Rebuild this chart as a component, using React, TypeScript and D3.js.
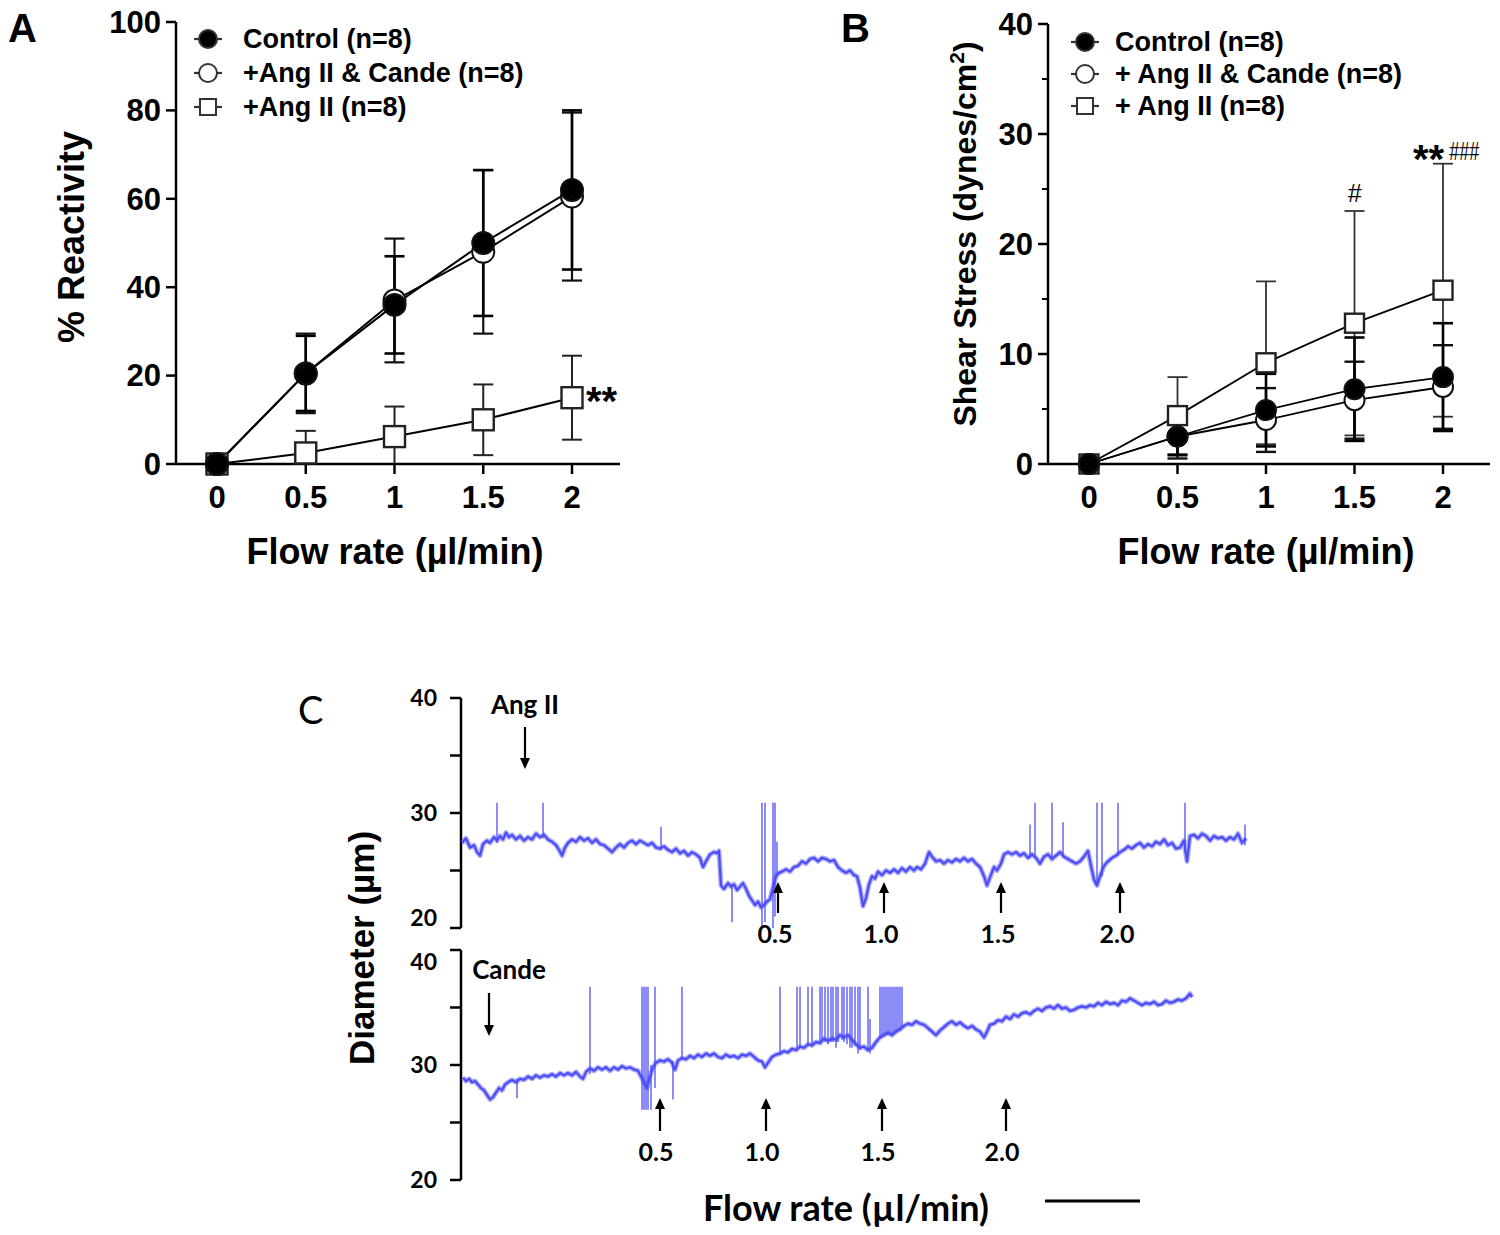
import React from "react";
import * as d3 from "d3";

// ---------- Panel A / B data ----------
const flowRates = [0, 0.5, 1, 1.5, 2];
const flowTickLabels = ["0", "0.5", "1", "1.5", "2"];

const reactControl = [0, 20.5, 36, 50, 62];
const reactControlErr = [0, 8.5, 11, 16.5, 18];
const reactCande = [0, 20.5, 37, 48, 60.5];
const reactCandeErr = [0, 9, 14, 18.5, 19];
const reactAngII = [0, 2.5, 6.2, 10, 15];
const reactAngIIErr = [0, 5, 6.8, 8, 9.5];
const reactTicks = [0, 20, 40, 60, 80, 100];

const shearControl = [0, 2.5, 4.9, 6.8, 7.9];
const shearControlErr = [0, 1.7, 3.3, 4.7, 4.9];
const shearCande = [0, 2.5, 4.0, 5.8, 7.0];
const shearCandeErr = [0, 2.0, 2.9, 3.5, 3.8];
const shearAngII = [0, 4.4, 9.2, 12.8, 15.8];
const shearAngIIErr = [0, 3.5, 7.4, 10.2, 11.5];
const shearTicks = [0, 10, 20, 30, 40];
const shearMinorTicks = [5, 15, 25, 35];

const legendA = ["Control (n=8)", "+Ang II & Cande (n=8)", "+Ang II (n=8)"];
const legendB = ["Control (n=8)", "+ Ang II & Cande (n=8)", "+ Ang II (n=8)"];

// ---------- Panel C data (time in s, diameter in µm) ----------
const traceAngII: [number, number][] = [
  [1,27.4],[5,27.8],[9,27.0],[13,27.2],[16,26.6],[19,26.3],[22,27.3],[26,27.6],[29,27.4],[33,27.9],[36,27.6],[39,28.0],[42,27.7],[45,28.3],[48,27.9],[51,28.1],[55,27.7],[59,28.0],[63,27.6],[67,27.9],[71,27.7],[75,28.2],[79,27.9],[83,28.1],[87,27.7],[91,27.5],[95,27.2],[98,26.8],[101,26.3],[104,27.0],[107,27.4],[111,27.7],[115,27.5],[119,27.9],[123,27.6],[127,27.8],[131,27.4],[135,27.7],[139,27.3],[143,27.2],[147,26.9],[151,26.6],[155,27.0],[159,27.3],[163,27.0],[167,27.4],[171,27.6],[175,27.3],[179,27.6],[183,27.4],[187,27.2],[191,27.4],[195,27.0],[199,26.9],[203,27.1],[207,26.8],[211,26.6],[215,26.9],[219,26.5],[223,26.7],[227,26.3],[231,26.6],[235,26.4],[239,26.1],[242,25.3],[245,25.8],[249,26.4],[253,26.6],[256,26.5],[258,26.7],[260,23.7],[263,23.4],[267,23.9],[270,23.6],[273,23.8],[276,23.3],[279,23.6],[282,23.9],[285,23.4],[288,22.8],[291,22.4],[294,22.0],[297,22.3],[300,21.8],[303,22.0],[306,22.3],[309,22.5],[312,23.5],[315,24.5],[318,24.8],[321,24.9],[325,25.1],[329,24.9],[333,25.3],[337,25.4],[341,25.8],[345,25.6],[349,26.0],[353,26.1],[357,25.8],[361,26.1],[365,26.0],[369,25.8],[373,25.9],[377,25.3],[381,25.0],[385,24.8],[389,25.0],[393,24.6],[396,24.5],[399,23.5],[402,21.9],[405,22.6],[408,23.8],[411,24.5],[414,24.3],[417,24.9],[421,24.6],[425,25.0],[429,24.8],[433,25.1],[437,24.8],[441,25.2],[445,24.9],[449,25.3],[453,25.0],[456,25.3],[460,25.1],[464,25.6],[468,26.6],[471,26.2],[475,25.8],[479,25.9],[483,25.6],[487,25.9],[491,25.7],[495,26.0],[499,25.8],[503,26.1],[507,25.8],[511,26.0],[515,25.6],[519,25.3],[523,24.5],[526,23.7],[529,24.4],[533,25.3],[536,25.0],[540,25.6],[543,26.4],[547,26.6],[551,26.4],[555,26.6],[559,26.3],[563,26.5],[567,26.1],[571,26.4],[575,26.1],[579,25.6],[583,26.2],[587,26.4],[591,26.0],[595,26.3],[599,26.6],[603,26.2],[607,26.0],[611,25.8],[615,25.6],[619,25.8],[623,26.2],[627,26.7],[630,25.4],[633,24.2],[636,23.7],[639,24.5],[643,25.4],[647,25.8],[651,26.1],[655,26.3],[659,26.6],[663,26.8],[667,27.1],[671,26.9],[675,27.2],[679,27.4],[683,27.0],[687,27.3],[691,27.1],[695,27.5],[699,27.3],[703,27.7],[707,27.2],[711,27.4],[715,26.9],[719,27.0],[723,27.6],[726,25.8],[729,28.0],[733,28.1],[737,27.8],[741,28.2],[745,28.0],[749,27.6],[753,28.0],[757,27.8],[761,27.9],[765,27.6],[769,27.9],[773,27.7],[777,28.2],[781,27.4],[785,27.8]
];
const spikesAngII: [number, number, number][] = [
  [36,27.4,30.9],[82,27.8,30.9],[200,26.8,28.8],[271,20.5,23.8],[301,20.0,30.9],[304,20.5,30.9],[312,20.0,30.9],[314,21.0,30.9],[316,24.5,27.5],[569,26.1,29.0],[574,26.3,30.9],[591,26.0,30.9],[602,26.4,29.2],[636,23.8,30.9],[641,24.5,30.9],[657,26.3,30.9],[724,26.5,30.9],[784,27.2,29.0]
];
const traceCande: [number, number][] = [
  [2,28.9],[5,28.6],[8,28.8],[11,28.5],[14,28.6],[17,28.3],[20,28.0],[23,27.8],[26,27.4],[29,27.0],[32,27.2],[35,27.6],[38,28.0],[41,27.8],[44,28.3],[47,28.5],[51,28.7],[55,28.5],[59,28.8],[63,28.7],[67,29.0],[71,28.8],[75,29.1],[79,28.9],[83,29.1],[87,29.0],[91,29.2],[95,29.0],[99,29.3],[103,29.1],[107,29.3],[111,29.1],[115,29.4],[119,29.0],[122,28.8],[125,29.4],[129,29.7],[133,29.5],[137,29.8],[141,29.6],[145,29.8],[149,29.5],[153,29.8],[157,29.6],[161,29.9],[165,29.7],[169,29.8],[173,29.6],[177,29.5],[180,29.0],[183,28.5],[186,28.0],[189,29.0],[192,29.8],[195,30.2],[199,30.4],[203,30.3],[207,30.5],[211,30.2],[214,29.6],[217,30.4],[221,30.6],[225,30.5],[229,30.8],[233,30.6],[237,30.9],[241,30.7],[245,31.0],[249,30.8],[253,31.0],[257,30.7],[261,30.6],[265,30.9],[269,30.7],[273,30.8],[277,30.6],[281,30.9],[285,30.8],[289,31.0],[293,30.7],[297,30.4],[301,30.3],[304,29.8],[307,30.2],[311,30.7],[315,30.9],[319,31.0],[323,31.2],[327,31.1],[331,31.4],[335,31.3],[339,31.6],[343,31.5],[347,31.8],[351,31.7],[355,32.0],[359,31.9],[363,32.3],[367,32.1],[371,32.3],[375,32.2],[379,32.6],[383,32.4],[387,32.6],[391,32.2],[395,31.8],[399,31.5],[403,31.6],[407,31.3],[411,31.5],[415,32.0],[419,32.4],[423,32.6],[427,32.8],[431,32.6],[435,32.9],[439,33.1],[443,33.4],[447,33.6],[451,33.5],[455,33.8],[459,33.6],[463,33.5],[467,33.2],[471,32.9],[475,32.6],[479,33.0],[483,33.3],[487,33.6],[491,33.8],[495,33.5],[499,33.7],[503,33.4],[507,33.2],[511,33.4],[515,33.1],[519,32.9],[523,32.4],[526,32.9],[529,33.5],[533,33.6],[537,33.9],[541,33.8],[545,34.2],[549,34.0],[553,34.4],[557,34.2],[561,34.5],[565,34.6],[569,34.4],[573,34.7],[577,34.9],[581,34.7],[585,35.0],[589,35.1],[593,34.9],[597,35.2],[601,34.9],[605,35.0],[609,34.7],[613,34.8],[617,35.0],[621,35.1],[625,35.0],[629,35.2],[633,35.1],[637,35.4],[641,35.2],[645,35.5],[649,35.3],[653,35.4],[657,35.2],[661,35.6],[665,35.5],[669,35.8],[673,35.6],[677,35.4],[681,35.2],[685,35.4],[689,35.3],[693,35.5],[697,35.2],[701,35.3],[705,35.6],[709,35.4],[713,35.5],[717,35.7],[721,35.6],[725,35.8],[729,36.2],[731,35.9]
];
const spikesCande: [number, number, number][] = [
  [56,27.1,28.8],[129,29.2,36.8],[181,26.1,36.8],[183,26.1,36.8],[185,26.1,36.8],[187,26.1,36.8],[190,26.1,30.0],[194,28.0,36.8],[212,27.0,30.3],[221,30.5,36.8],[319,30.9,36.8],[336,31.5,36.8],[339,31.5,36.8],[347,31.8,36.8],[351,31.7,36.8],[359,32.0,36.8],[361,32.0,36.8],[364,32.0,36.8],[367,31.8,36.8],[370,32.0,36.8],[372,32.0,36.8],[375,31.5,36.8],[377,32.0,36.8],[381,32.2,36.8],[383,32.0,36.8],[386,31.8,36.8],[389,31.5,36.8],[391,31.5,36.8],[394,31.7,36.8],[397,31.0,36.8],[399,31.3,36.8],[407,31.2,36.8],[409,31.0,34.0],[419,32.3,36.8],[421,32.4,36.8],[423,32.5,36.8],[425,32.6,36.8],[427,32.6,36.8],[429,32.7,36.8],[431,32.6,36.8],[433,32.8,36.8],[435,32.8,36.8],[437,33.0,36.8],[439,33.0,36.8],[441,33.2,36.8]
];
const diamTicks = [20, 25, 30, 35, 40];
const diamTickLabels = [20, 30, 40];
const flowMarkTimesAngII = [317, 423, 540, 659];
const flowMarkTimesCande = [199, 305, 421, 545];
const flowMarkLabels = ["0.5", "1.0", "1.5", "2.0"];
const angIIAddTime = 64;
const candeAddTime = 28;

const FONT = "'Liberation Sans', Arial, sans-serif";
const FONT_C = "Lato, 'Open Sans', sans-serif";
const TRACE = "#4b4bf7";

type Series = { vals: number[]; err: number[]; kind: "filled" | "open" | "square"; errColor: string; errW: number };

function XYPanel(props: {
  x: d3.ScaleLinear<number, number>;
  y: d3.ScaleLinear<number, number>;
  yTicks: number[];
  yMinor?: number[];
  xEnd: number;
  series: Series[];
  r: number;
  sq: number;
  lineW: number;
}) {
  const { x, y, yTicks, yMinor = [], xEnd, series, r, sq, lineW } = props;
  const x0 = x.range()[0] - 41;
  const [yBottom] = y.range();
  const yTop = y(y.domain()[1]);
  const line = d3.line<number>().x((_, i) => x(flowRates[i])).y((v) => y(v));
  const cap = 10;
  const marker = (s: Series, i: number, key: string) => {
    const cx = x(flowRates[i]);
    const cy = y(s.vals[i]);
    if (s.kind === "square")
      return <rect key={key} x={cx - sq / 2} y={cy - sq / 2} width={sq} height={sq} fill="#fff" stroke="#222" strokeWidth={2.4} />;
    return <circle key={key} cx={cx} cy={cy} r={r} fill={s.kind === "filled" ? "#000" : "#fff"} stroke="#111" strokeWidth={2} />;
  };
  return (
    <g>
      <line x1={x0} x2={x0} y1={yTop} y2={yBottom} stroke="#000" strokeWidth={2.5} />
      <line x1={x0} x2={xEnd} y1={yBottom} y2={yBottom} stroke="#000" strokeWidth={2.5} />
      {yTicks.map((t) => (
        <g key={"yt" + t}>
          <line x1={x0 - 10} x2={x0} y1={y(t)} y2={y(t)} stroke="#000" strokeWidth={2.5} />
          <text x={x0 - 15} y={y(t)} dy="0.35em" textAnchor="end" fontFamily={FONT} fontWeight="bold" fontSize={31}>{t}</text>
        </g>
      ))}
      {yMinor.map((t) => (
        <line key={"ym" + t} x1={x0 - 6} x2={x0} y1={y(t)} y2={y(t)} stroke="#000" strokeWidth={2} />
      ))}
      {flowRates.map((f, i) => (
        <g key={"xt" + f}>
          <line x1={x(f)} x2={x(f)} y1={yBottom} y2={yBottom + 10} stroke="#000" strokeWidth={2.5} />
          <text x={x(f)} y={yBottom + 33} dy="0.35em" textAnchor="middle" fontFamily={FONT} fontWeight="bold" fontSize={31}>{flowTickLabels[i]}</text>
        </g>
      ))}
      {series.map((s, si) =>
        s.vals.map((v, i) => {
          if (!s.err[i]) return null;
          const cx = x(flowRates[i]);
          const hi = y(v + s.err[i]);
          const loVal = v - s.err[i];
          const lo = y(Math.max(0, loVal));
          return (
            <g key={`e${si}-${i}`} stroke={s.errColor} strokeWidth={s.errW}>
              <line x1={cx} x2={cx} y1={hi} y2={lo} />
              <line x1={cx - cap} x2={cx + cap} y1={hi} y2={hi} />
              {loVal > 0 && <line x1={cx - cap} x2={cx + cap} y1={lo} y2={lo} />}
            </g>
          );
        })
      )}
      {series.map((s, si) => (
        <path key={"l" + si} d={line(s.vals) || ""} fill="none" stroke="#000" strokeWidth={lineW} />
      ))}
      {series.map((s, si) => s.vals.map((_, i) => marker(s, i, `m${si}-${i}`)))}
    </g>
  );
}

function Legend(props: { x: number; y: number; dy: number; labels: string[]; r: number; sq: number; tx: number }) {
  const { x, y, dy, labels, r, sq, tx } = props;
  const kinds = ["filled", "open", "square"];
  return (
    <g>
      {labels.map((lab, i) => {
        const cy = y + i * dy;
        return (
          <g key={lab}>
            <line x1={x - 14} x2={x + 14} y1={cy} y2={cy} stroke="#333" strokeWidth={2.2} />
            {kinds[i] === "square" ? (
              <rect x={x - sq / 2} y={cy - sq / 2} width={sq} height={sq} fill="#fff" stroke="#333" strokeWidth={2} />
            ) : (
              <circle cx={x} cy={cy} r={r} fill={kinds[i] === "filled" ? "#000" : "#fff"} stroke="#333" strokeWidth={2} />
            )}
            <text x={x + tx} y={cy} dy="0.35em" fontFamily={FONT} fontWeight="bold" fontSize={27}>{lab}</text>
          </g>
        );
      })}
    </g>
  );
}

function Arrow(props: { x: number; y1: number; y2: number }) {
  const { x, y1, y2 } = props;
  const dir = y2 > y1 ? 1 : -1;
  const h = 11;
  return (
    <g>
      <line x1={x} x2={x} y1={y1} y2={y2 - dir * h} stroke="#000" strokeWidth={2.2} />
      <path d={`M${x},${y2} L${x - 5},${y2 - dir * h} L${x + 5},${y2 - dir * h} Z`} fill="#000" />
    </g>
  );
}

export default function App() {
  const xA = d3.scaleLinear().domain([0, 2]).range([217, 572]);
  const yA = d3.scaleLinear().domain([0, 100]).range([464, 22]);
  const xB = d3.scaleLinear().domain([0, 2]).range([1089, 1443]);
  const yB = d3.scaleLinear().domain([0, 40]).range([464, 24]);

  const xC = d3.scaleLinear().domain([0, 800]).range([461, 1261]);
  const yCtop = d3.scaleLinear().domain([20, 40]).range([928, 698]);
  const yCbot = d3.scaleLinear().domain([20, 40]).range([1180, 950]);

  const traceLineTop = d3.line<[number, number]>().x((d) => xC(d[0])).y((d) => yCtop(d[1]));
  const traceLineBot = d3.line<[number, number]>().x((d) => xC(d[0])).y((d) => yCbot(d[1]));

  const seriesA: Series[] = [
    { vals: reactAngII, err: reactAngIIErr, kind: "square", errColor: "#222", errW: 2 },
    { vals: reactCande, err: reactCandeErr, kind: "open", errColor: "#111", errW: 2.2 },
    { vals: reactControl, err: reactControlErr, kind: "filled", errColor: "#000", errW: 2.6 },
  ];
  const seriesB: Series[] = [
    { vals: shearAngII, err: shearAngIIErr, kind: "square", errColor: "#333", errW: 1.8 },
    { vals: shearCande, err: shearCandeErr, kind: "open", errColor: "#111", errW: 2.4 },
    { vals: shearControl, err: shearControlErr, kind: "filled", errColor: "#000", errW: 2.6 },
  ];

  const axC = 461;
  const topB = yB(shearAngII[4] + shearAngIIErr[4]);

  return (
    <svg width={1500} height={1235} style={{ position: "absolute", left: 0, top: 0, background: "#fff" }}>
      <rect x={0} y={0} width={1500} height={1235} fill="#fff" />
      {/* Panel A */}
      <text x={8} y={42} fontFamily={FONT} fontWeight="bold" fontSize={40}>A</text>
      <XYPanel x={xA} y={yA} yTicks={reactTicks} xEnd={620} series={seriesA} r={11} sq={21} lineW={2} />
      <Legend x={208} y={39} dy={34} labels={legendA} r={9} sq={16} tx={35} />
      <text x={586} y={yA(reactAngII[4]) + 17} fontFamily={FONT} fontWeight="bold" fontSize={40}>**</text>
      <text transform={`translate(84,237) rotate(-90)`} textAnchor="middle" fontFamily={FONT} fontWeight="bold" fontSize={36}>% Reactivity</text>
      <text x={395} y={551} dy="0.35em" textAnchor="middle" fontFamily={FONT} fontWeight="bold" fontSize={36}>Flow rate (µl/min)</text>

      {/* Panel B */}
      <text x={841} y={42} fontFamily={FONT} fontWeight="bold" fontSize={40}>B</text>
      <XYPanel x={xB} y={yB} yTicks={shearTicks} yMinor={shearMinorTicks} xEnd={1490} series={seriesB} r={10} sq={19} lineW={1.8} />
      <Legend x={1085} y={42} dy={32} labels={legendB} r={9} sq={16} tx={30} />
      <text x={xB(1.5)} y={yB(shearAngII[3] + shearAngIIErr[3]) - 9} textAnchor="middle" fontFamily={FONT} fontStyle="italic" fontSize={25}>#</text>
      <text x={xB(2) - 30} y={topB + 9} fontFamily={FONT} fontWeight="bold" fontSize={40}>**</text>
      <text x={xB(2) + 6} y={topB - 4} fontFamily={FONT} fontStyle="italic" fontSize={25} textLength={30} lengthAdjust="spacingAndGlyphs">###</text>
      <text transform={`translate(976,234) rotate(-90)`} textAnchor="middle" fontFamily={FONT} fontWeight="bold" fontSize={32}>
        Shear Stress (dynes/cm<tspan dy={-12} fontSize={21}>2</tspan><tspan dy={12}>)</tspan>
      </text>
      <text x={1266} y={551} dy="0.35em" textAnchor="middle" fontFamily={FONT} fontWeight="bold" fontSize={36}>Flow rate (µl/min)</text>

      {/* Panel C */}
      <text x={298} y={724} fontFamily={FONT_C} fontSize={38}>C</text>
      {[yCtop, yCbot].map((ys, k) => (
        <g key={"cax" + k}>
          <line x1={axC} x2={axC} y1={ys(40)} y2={ys(20)} stroke="#000" strokeWidth={2.5} />
          {diamTicks.map((t) => (
            <line key={t} x1={axC - 11} x2={axC} y1={ys(t)} y2={ys(t)} stroke="#000" strokeWidth={2.5} />
          ))}
          {diamTickLabels.map((t) => {
            const shift = k === 0 && t === 20 ? -10 : k === 1 && t === 40 ? 12 : 0;
            return (
              <text key={"l" + t} x={axC - 24} y={ys(t) + shift} dy="0.35em" textAnchor="end" fontFamily={FONT_C} fontWeight="bold" fontSize={23}>{t}</text>
            );
          })}
        </g>
      ))}
      <text transform={`translate(374,948) rotate(-90)`} textAnchor="middle" fontFamily={FONT} fontWeight="bold" fontSize={35}>Diameter (µm)</text>

      {/* traces */}
      <g stroke={TRACE} strokeWidth={1.4} opacity={0.9}>
        {spikesAngII.map((s, i) => (
          <line key={"sa" + i} x1={xC(s[0])} x2={xC(s[0])} y1={yCtop(s[1])} y2={yCtop(s[2])} />
        ))}
        {spikesCande.map((s, i) => (
          <line key={"sc" + i} x1={xC(s[0])} x2={xC(s[0])} y1={yCbot(s[1])} y2={yCbot(s[2])} />
        ))}
      </g>
      <path d={traceLineTop(traceAngII) || ""} fill="none" stroke={TRACE} strokeOpacity={0.45} strokeWidth={5} strokeLinejoin="round" />
      <path d={traceLineBot(traceCande) || ""} fill="none" stroke={TRACE} strokeOpacity={0.45} strokeWidth={5} strokeLinejoin="round" />
      <path d={traceLineTop(traceAngII) || ""} fill="none" stroke={TRACE} strokeWidth={2.2} strokeLinejoin="round" />
      <path d={traceLineBot(traceCande) || ""} fill="none" stroke={TRACE} strokeWidth={2.2} strokeLinejoin="round" />

      {/* annotations */}
      <text x={xC(angIIAddTime)} y={705} dy="0.35em" textAnchor="middle" fontFamily={FONT_C} fontWeight="bold" fontSize={26}>Ang II</text>
      <Arrow x={xC(angIIAddTime)} y1={727} y2={769} />
      <text x={xC(candeAddTime) + 20} y={970} dy="0.35em" textAnchor="middle" fontFamily={FONT_C} fontWeight="bold" fontSize={26}>Cande</text>
      <Arrow x={xC(candeAddTime)} y1={993} y2={1036} />
      {flowMarkTimesAngII.map((t, i) => (
        <g key={"fa" + i}>
          <Arrow x={xC(t)} y1={913} y2={882} />
          <text x={xC(t) - 3} y={934} dy="0.35em" textAnchor="middle" fontFamily={FONT_C} fontWeight="bold" fontSize={25}>{flowMarkLabels[i]}</text>
        </g>
      ))}
      {flowMarkTimesCande.map((t, i) => (
        <g key={"fc" + i}>
          <Arrow x={xC(t)} y1={1131} y2={1098} />
          <text x={xC(t) - 4} y={1152} dy="0.35em" textAnchor="middle" fontFamily={FONT_C} fontWeight="bold" fontSize={25}>{flowMarkLabels[i]}</text>
        </g>
      ))}
      <text x={846} y={1208} dy="0.35em" textAnchor="middle" fontFamily={FONT_C} fontWeight="bold" fontSize={36}>Flow rate (µl/min)</text>
      <line x1={1045} x2={1140} y1={1201} y2={1201} stroke="#000" strokeWidth={3} />
    </svg>
  );
}
